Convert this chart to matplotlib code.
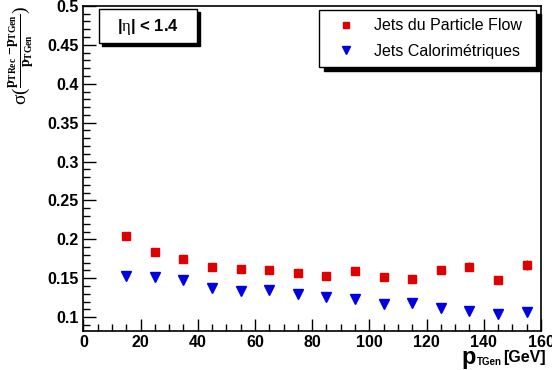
import matplotlib
matplotlib.use("Agg")
import matplotlib.pyplot as plt
from matplotlib.ticker import MultipleLocator
from matplotlib.patches import Rectangle
from matplotlib.lines import Line2D

pt_gen = [15, 25, 35, 45, 55, 65, 75, 85, 95, 105, 115, 125, 135, 145, 155]
pf_res = [0.204, 0.184, 0.175, 0.165, 0.162, 0.160, 0.157, 0.153, 0.159, 0.152, 0.149, 0.160, 0.165, 0.148, 0.167]
pf_err = [0.002, 0.002, 0.002, 0.002, 0.002, 0.002, 0.002, 0.002, 0.002, 0.002, 0.002, 0.005, 0.006, 0.005, 0.006]
calo_res = [0.153, 0.151, 0.148, 0.137, 0.133, 0.135, 0.130, 0.126, 0.123, 0.117, 0.118, 0.112, 0.108, 0.104, 0.107]
calo_err = [0.002, 0.002, 0.002, 0.002, 0.002, 0.002, 0.002, 0.002, 0.002, 0.002, 0.002, 0.003, 0.003, 0.003, 0.003]
labels = ["Jets du Particle Flow", "Jets Calorimétriques"]

plt.rcParams['font.family'] = ['Liberation Sans', 'DejaVu Sans']
plt.rcParams['mathtext.fontset'] = 'custom'
plt.rcParams['mathtext.rm'] = 'Liberation Serif'
plt.rcParams['mathtext.it'] = 'Liberation Serif'
plt.rcParams['mathtext.bf'] = 'Liberation Serif:bold'

fig = plt.figure(figsize=(5.52, 3.70), dpi=100)
ax = fig.add_axes([0.151, 0.105, 0.829, 0.879])

red = '#e00000'
blue = '#0000e0'
ax.errorbar(pt_gen, pf_res, yerr=pf_err, fmt='s', color=red, ms=6,
            elinewidth=1, capsize=0, zorder=3)
ax.errorbar(pt_gen, calo_res, yerr=calo_err, fmt='v', color=blue, ms=6.5,
            elinewidth=1, capsize=0, zorder=3)

ax.set_xlim(0, 160)
ax.set_ylim(0.082, 0.5)
ax.xaxis.set_major_locator(MultipleLocator(20))
ax.xaxis.set_minor_locator(MultipleLocator(5))
ax.yaxis.set_major_locator(MultipleLocator(0.05))
ax.yaxis.set_minor_locator(MultipleLocator(0.01))
ax.tick_params(which='both', direction='in', top=False, right=False, width=1)
ax.tick_params(which='major', length=9, labelsize=11.5)
ax.tick_params(which='minor', length=5)
ax.tick_params(axis='x', pad=3)
ax.yaxis.set_major_formatter(matplotlib.ticker.FuncFormatter(lambda v, p: ('%g' % round(v, 2))))
for lab in ax.get_xticklabels() + ax.get_yticklabels():
    lab.set_fontweight('bold')
for s in ax.spines.values():
    s.set_linewidth(1.2)

# x label
fig.text(0.836, 0.002, 'p', ha='left', va='bottom', fontsize=17, fontweight='bold')
fig.text(0.864, 0.008, 'TGen', ha='left', va='bottom', fontsize=7, fontweight='bold')
fig.text(0.988, 0.014, '[GeV]', ha='right', va='bottom', fontsize=11.5, fontweight='bold')

# y label
fig.text(0.012, 0.985, r'$\sigma(\frac{\mathbf{p}_{\mathbf{TRec}}\ \mathbf{-p}_{\mathbf{TGen}}}{\mathbf{p}_{\mathbf{TGen}}})$',
         rotation=90, ha='left', va='top', fontsize=14)

# eta box with shadow
ax.add_patch(Rectangle((0.0416, 0.8753), 0.214, 0.1045, transform=ax.transAxes,
                       facecolor='black', edgecolor='black', zorder=4, clip_on=False))
ax.add_patch(Rectangle((0.034, 0.8861), 0.214, 0.1045, transform=ax.transAxes,
                       facecolor='white', edgecolor='black', lw=1, zorder=5, clip_on=False))
ax.text(0.141, 0.936, r'|$\eta$| < 1.4', transform=ax.transAxes, ha='center', va='center',
        fontsize=12, fontweight='bold', zorder=6)

handles = [Line2D([], [], ls='none', marker='s', color=red, ms=5),
           Line2D([], [], ls='none', marker='v', color=blue, ms=5.5)]
x0, x1, y0, y1 = 0.516, 0.990, 0.812, 0.987
ax.add_patch(Rectangle((x0 + 0.01, y0 - 0.013), x1 - x0, y1 - y0, transform=ax.transAxes,
                       facecolor='black', edgecolor='black', zorder=4, clip_on=False))
ax.add_patch(Rectangle((x0, y0), x1 - x0, y1 - y0, transform=ax.transAxes,
                       facecolor='white', edgecolor='black', lw=1, zorder=5, clip_on=False))
leg = ax.legend(handles, labels, loc='center left', bbox_to_anchor=(x0 + 0.0, (y0 + y1) / 2),
                fontsize=11.5, frameon=False, handletextpad=1.0, handlelength=1.5,
                labelspacing=0.65, numpoints=1)
leg.set_zorder(6)

fig.savefig('out.png', dpi=100)
